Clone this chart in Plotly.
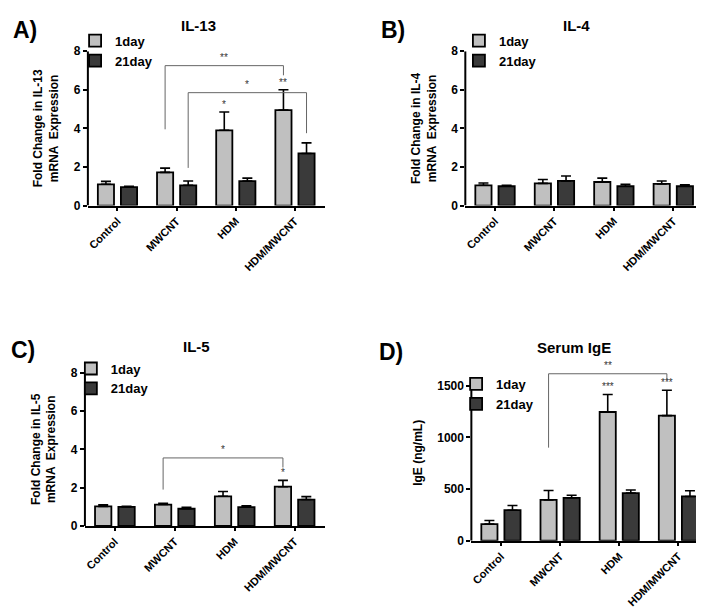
import numpy as np
import plotly.graph_objects as go

categories = ["Control", "MWCNT", "HDM", "HDM/MWCNT"]
series_names = ["1day", "21day"]

il13_1day = [1.10, 1.72, 3.90, 4.95]
il13_1day_err = [0.15, 0.22, 0.95, 1.05]
il13_21day = [0.95, 1.05, 1.27, 2.70]
il13_21day_err = [0.05, 0.22, 0.15, 0.55]

il4_1day = [1.05, 1.15, 1.22, 1.12]
il4_1day_err = [0.12, 0.20, 0.20, 0.15]
il4_21day = [1.00, 1.28, 1.00, 1.00]
il4_21day_err = [0.05, 0.25, 0.10, 0.07]

il5_1day = [1.02, 1.12, 1.55, 2.05]
il5_1day_err = [0.08, 0.06, 0.25, 0.33]
il5_21day = [1.00, 0.90, 0.98, 1.38]
il5_21day_err = [0.03, 0.08, 0.08, 0.15]

ige_1day = [160, 395, 1245, 1210]
ige_1day_err = [35, 90, 170, 245]
ige_21day = [295, 415, 460, 428]
ige_21day_err = [45, 25, 30, 55]

# brackets: (start cat, start series, end cat, end series, left leg bottom, top, right leg bottom, label)
il13_brackets = [(1, 0, 3, 0, 3.95, 7.25, 6.75, "**"),
                 (1, 1, 3, 1, 1.95, 5.85, 3.75, "*")]
il13_stars = [(2, 0, 4.85, "*"), (3, 0, 6.0, "**")]
il5_brackets = [(1, 0, 3, 0, 1.9, 3.55, 3.05, "*")]
il5_stars = [(3, 0, 2.38, "*")]
ige_brackets = [(1, 0, 3, 0, 900, 1615, 1555, "**")]
ige_stars = [(2, 0, 1415, "***"), (3, 0, 1455, "***")]

FONT = "Liberation Sans, Arial, sans-serif"
COLORS = ["#c0c0c0", "#3a3a3a"]
BARGAP = 0.22
OFF = (1 - BARGAP) / 4  # offset of each bar centre from the category centre

panels = [
    dict(letter="A)", title="IL-13", ytitle="Fold Change in IL-13<br>mRNA  Expression",
         data=[(il13_1day, il13_1day_err), (il13_21day, il13_21day_err)],
         xdom=[0.1122, 0.4489], ydom=[0.6803, 0.9393], yrange=[0, 8], ytop=8, dtick=2,
         brackets=il13_brackets, stars=il13_stars,
         lx=0.094, ly=0.982, title_xy=(190, 11), letter_xy=(16, 15)),
    dict(letter="B)", title="IL-4", ytitle="Fold Change in IL-4<br>mRNA  Expression",
         data=[(il4_1day, il4_1day_err), (il4_21day, il4_21day_err)],
         xdom=[0.6491, 0.9872], ydom=[0.6803, 0.9393], yrange=[0, 8], ytop=8, dtick=2,
         brackets=[], stars=[],
         lx=0.640, ly=0.982, title_xy=(568, 11), letter_xy=(385, 15)),
    dict(letter="C)", title="IL-5", ytitle="Fold Change in IL-5<br>mRNA  Expression",
         data=[(il5_1day, il5_1day_err), (il5_21day, il5_21day_err)],
         xdom=[0.108, 0.4489], ydom=[0.1426, 0.4], yrange=[0, 8], ytop=8, dtick=2,
         brackets=il5_brackets, stars=il5_stars,
         lx=0.088, ly=0.432, title_xy=(188, 339), letter_xy=(14, 343)),
    dict(letter="D)", title="Serum IgE", ytitle="IgE (ng/mL)",
         data=[(ige_1day, ige_1day_err), (ige_21day, ige_21day_err)],
         xdom=[0.6577, 0.9943], ydom=[0.1180, 0.4128], yrange=[0, 1700], ytop=1500, dtick=500,
         brackets=ige_brackets, stars=ige_stars,
         lx=0.636, ly=0.406, title_xy=(566, 340), letter_xy=(383, 345)),
]

W, H = 704, 610
fig = go.Figure()
x = np.arange(len(categories))

for p_i, p in enumerate(panels):
    n = "" if p_i == 0 else str(p_i + 1)
    xref, yref = "x" + n, "y" + n
    legend_name = "legend" + n
    for s_i, (vals, errs) in enumerate(p["data"]):
        fig.add_trace(go.Bar(
            x=x, y=vals, name=series_names[s_i],
            xaxis=xref, yaxis=yref, legend=legend_name,
            marker=dict(color=COLORS[s_i], line=dict(color="black", width=1.8)),
            error_y=dict(type="data", array=errs, arrayminus=[0] * len(errs),
                         symmetric=False, color="black", thickness=1.6, width=5),
        ))

    fig.update_layout({
        "xaxis" + n: dict(domain=p["xdom"], anchor=yref, range=[-0.5, 3.5],
                          tickvals=list(x), ticktext=categories, tickangle=-45,
                          showline=True, linecolor="black", linewidth=2,
                          ticks="outside", ticklen=3, tickwidth=1.5, tickcolor="black",
                          showgrid=False, zeroline=False,
                          tickfont=dict(family=FONT, size=11, color="black", weight="bold")),
        "yaxis" + n: dict(domain=p["ydom"], anchor=xref, range=p["yrange"],
                          tickvals=list(np.arange(0, p["ytop"] + 1, p["dtick"])),
                          showline=False, ticks="outside", ticklen=4, tickwidth=1.5,
                          tickcolor="black", showgrid=False, zeroline=False,
                          tickfont=dict(family=FONT, size=12, color="black", weight="bold"),
                          title=dict(text=p["ytitle"], standoff=12,
                                     font=dict(family=FONT, size=12, color="black", weight="bold"))),
        legend_name: dict(x=p["lx"], y=p["ly"], xanchor="left", yanchor="top",
                          bgcolor="rgba(0,0,0,0)", tracegroupgap=0,
                          font=dict(family=FONT, size=13, color="black", weight="bold")),
    })

    # y axis line up to the top tick only
    fig.add_shape(type="line", xref=xref + " domain", yref=yref, x0=0, x1=0,
                  y0=0, y1=p["ytop"], line=dict(color="black", width=2))

    for c0, s0, c1, s1, yb0, ytop, yb1, lab in p["brackets"]:
        xa = c0 + (2 * s0 - 1) * OFF
        xb = c1 + (2 * s1 - 1) * OFF
        for seg in [(xa, yb0, xa, ytop), (xa, ytop, xb, ytop), (xb, ytop, xb, yb1)]:
            fig.add_shape(type="line", xref=xref, yref=yref,
                          x0=seg[0], y0=seg[1], x1=seg[2], y1=seg[3],
                          line=dict(color="#666666", width=1))
        fig.add_annotation(x=(xa + xb) / 2, y=ytop, xref=xref, yref=yref, text=lab,
                           showarrow=False, yanchor="bottom", yshift=1,
                           font=dict(family=FONT, size=10, color="#333333"))
    for c, s, yv, lab in p["stars"]:
        fig.add_annotation(x=c + (2 * s - 1) * OFF, y=yv, xref=xref, yref=yref, text=lab,
                           showarrow=False, yanchor="bottom",
                           font=dict(family=FONT, size=10, color="#333333"))

    tx, ty = p["title_xy"]
    fig.add_annotation(x=tx / W, y=1 - ty / H, xref="paper", yref="paper", text="<b>%s</b>" % p["title"],
                       showarrow=False, xanchor="center", yanchor="middle",
                       font=dict(family=FONT, size=15, color="black"))
    lx, ly = p["letter_xy"]
    fig.add_annotation(x=lx / W, y=1 - ly / H, xref="paper", yref="paper", text="<b>%s</b>" % p["letter"],
                       showarrow=False, xanchor="center", yanchor="middle",
                       font=dict(family=FONT, size=23, color="black"))

fig.update_layout(
    width=W, height=H,
    margin=dict(l=0, r=0, t=0, b=0),
    barmode="group", bargap=BARGAP, bargroupgap=0.3,
    plot_bgcolor="white", paper_bgcolor="white",
    font=dict(family=FONT, color="black"),
)

fig.write_html("out.html")
